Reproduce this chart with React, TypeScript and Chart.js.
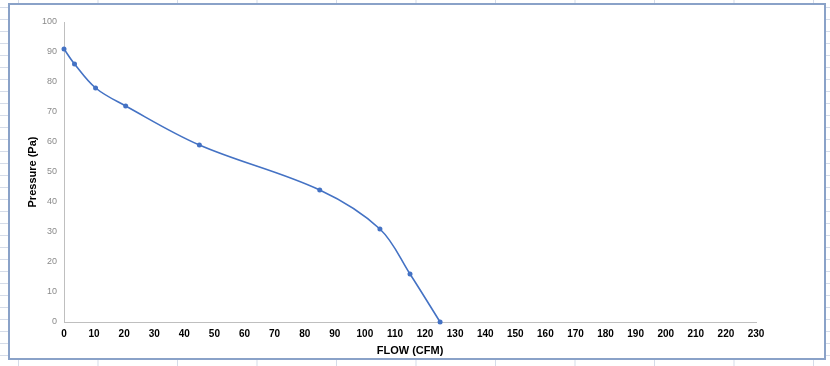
import React, { useEffect, useRef } from "react";
import { Chart, registerables } from "chart.js";

Chart.register(...registerables);

const flowCFM = [0, 3.5, 10.5, 20.5, 45, 85, 105, 115, 125];
const pressurePa = [91, 86, 78, 72, 59, 44, 31, 16, 0];
const xTitle = "FLOW (CFM)";
const yTitle = "Pressure (Pa)";

export default function App() {
  const ref = useRef<HTMLCanvasElement | null>(null);

  useEffect(() => {
    document.body.style.margin = "0";
    const ctx = ref.current;
    if (!ctx) return;
    const chart = new Chart(ctx, {
      type: "line",
      data: {
        datasets: [
          {
            data: flowCFM.map((x, i) => ({ x, y: pressurePa[i] })),
            borderColor: "#4472c4",
            backgroundColor: "#4472c4",
            borderWidth: 1.6,
            pointRadius: 2.5,
            pointBorderWidth: 0,
            tension: 0.35,
            clip: false as any,
            fill: false,
          },
        ],
      },
      options: {
        animation: false,
        responsive: false,
        maintainAspectRatio: false,
        layout: { padding: { left: 0, right: 68, top: 17, bottom: 0 } },
        plugins: { legend: { display: false }, tooltip: { enabled: false } },
        scales: {
          x: {
            type: "linear",
            min: 0,
            max: 230,
            grid: { display: false, drawTicks: false },
            border: { color: "#bfbfbf", width: 1 },
            ticks: {
              stepSize: 10,
              padding: 6,
              color: "#000",
              maxRotation: 0,
              autoSkip: false,
              font: { family: "Liberation Sans, Arial, sans-serif", size: 10, weight: "bold" },
            },
            title: {
              display: true,
              text: xTitle,
              color: "#000",
              padding: { top: 2, bottom: 0 },
              font: { family: "Liberation Sans, Arial, sans-serif", size: 11, weight: "bold" },
            },
            afterFit: (s: any) => {
              s.height = 36;
            },
          },
          y: {
            min: 0,
            max: 100,
            grid: { display: false, drawTicks: false },
            border: { color: "#bfbfbf", width: 1 },
            ticks: {
              stepSize: 10,
              padding: 7,
              color: "#8a8a8a",
              font: { family: "Liberation Sans, Arial, sans-serif", size: 9 },
            },
            title: {
              display: true,
              text: yTitle,
              color: "#000",
              padding: { top: 16, bottom: 0 },
              font: { family: "Liberation Sans, Arial, sans-serif", size: 11, weight: "bold" },
            },
            afterFit: (s: any) => {
              s.width = 54;
            },
          },
        },
      },
    });
    return () => chart.destroy();
  }, []);

  return (
    <div
      style={{
        position: "absolute",
        left: 0,
        top: 0,
        width: 830,
        height: 366,
        overflow: "hidden",
        backgroundColor: "#fff",
        backgroundImage:
          "linear-gradient(to bottom, #d5dce9 1px, transparent 1px), linear-gradient(to right, #d5dce9 1px, transparent 1px)",
        backgroundSize: "100% 12px, 79.5px 100%",
        backgroundPosition: "0 7px, 18px 0",
      }}
    >
      <div
        style={{
          position: "absolute",
          left: 8,
          top: 3,
          width: 818,
          height: 357,
          boxSizing: "border-box",
          border: "2px solid #8aa2c8",
          background: "#fff",
        }}
      >
        <canvas ref={ref} width={814} height={353} style={{ display: "block", width: 814, height: 353 }} />
      </div>
    </div>
  );
}
